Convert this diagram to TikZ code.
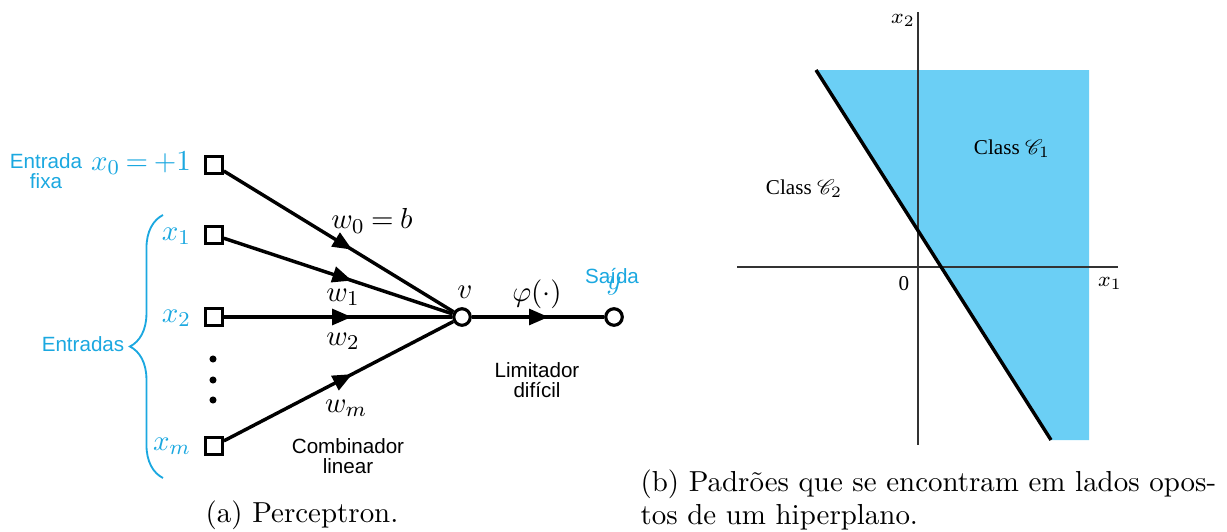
\documentclass[tikz,border=0pt]{standalone}
\usepackage{amsmath,amssymb}
\usepackage{mathrsfs}
\usepackage{fontspec}
\newfontfamily\sansfont{Liberation Sans}
\newfontfamily\timesfont{Liberation Serif}
\usepackage{xcolor}
\usepackage{tikz}
\usetikzlibrary{arrows.meta,decorations.markings,decorations.pathreplacing}

\definecolor{azul}{HTML}{1BA8E0}
\definecolor{regiao}{HTML}{6BCFF5}

\begin{document}
\begin{tikzpicture}[
  x=0.0133cm, y=-0.0133cm,
  font=\fontsize{11}{13}\selectfont,
  inp/.style={draw, line width=1.2pt, fill=white, minimum size=2.2mm, inner sep=0pt},
  soma/.style={circle, draw, line width=1.2pt, fill=white, minimum size=2.2mm, inner sep=0pt},
  syn/.style={line width=1.3pt, postaction={decorate},
              decoration={markings, mark=at position #1 with
                {\arrow{Triangle[length=2.6mm,width=2.1mm]}}}},
  syn/.default=0.56,
  el/.style={font=\sansfont\fontsize{7.8}{7.6}\selectfont, align=center, inner sep=1pt},
  cy/.style={el, text=azul},
  wt/.style={inner sep=1pt, execute at begin node={\thickmuskip=4mu}},
  cls/.style={font=\timesfont\fontsize{8}{9}\selectfont, inner sep=1pt},
  ax/.style={line width=0.6pt, black!80},
  legenda/.style={font=\fontsize{10.95}{12.6}\selectfont, inner sep=0pt},
]
\useasboundingbox (0,0) rectangle (1227,531);

% --- (a) perceptron -----------------------------------------------------
\node[inp] (x0) at (214,165) {};
\node[inp] (x1) at (214,235) {};
\node[inp] (x2) at (214,317) {};
\node[inp] (xm) at (214,446) {};
\node[soma] (v) at (462,317) {};
\node[soma] (out) at (614,317) {};

\foreach \yy in {359,380,400}
  \fill (213,\yy) circle[radius=0.47mm];

\node[wt, text=azul, anchor=base east, execute at begin node={\thickmuskip=3.5mu}] (lx0) at (194,170) {$x_0 = +1$};
\node[wt, text=azul, anchor=base east] (lx1) at (194,240) {$x_1$};
\node[wt, text=azul, anchor=base east] (lx2) at (194,322) {$x_2$};
\node[wt, text=azul, anchor=base east] (lxm) at (194,450) {$x_m$};

\draw[syn] (x0) -- (v);
\draw[syn] (x1) -- (v);
\draw[syn] (x2) -- (v);
\draw[syn] (xm) -- (v);
\draw[syn=0.58] (v) -- (out);

\node[wt] (w0) at (372,221) {$w_0 = b$};
\node[wt] (w1) at (343,297) {$w_1$};
\node[wt] (w2) at (343,341) {$w_2$};
\node[wt] (wm) at (346,408) {$w_m$};
\node[wt] (lv) at (465,292) {$v$};
\node[wt] (phi) at (537,294) {$\varphi(\cdot)$};

\node[cy] (fixa) at (46,171) {Entrada\\fixa};
\node[cy] (said) at (612,276) {Saída};
\node[wt, text=azul] (ly) at (614,286) {$y$};
\node[el] (lim) at (537,380) {Limitador\\difícil};
\node[el] (comb) at (348,456) {Combinador\\linear};

% brace round the inputs
\coordinate (bb) at (163,478);
\coordinate (bt) at (163,215);
\draw[azul, line width=0.7pt, decorate, decoration={brace, amplitude=0.44cm}] (bb) -- (bt);
\node[cy] (entr) at (83,344) {Entradas};

\node[legenda] (capa) at (302,515) {(a) Perceptron.};

% --- (b) hyperplane -----------------------------------------------------
\fill[regiao] (816,70) -- (1089,70) -- (1089,440) -- (1051,440) -- cycle;
\draw[ax] (737,267) -- (1118,267);
\draw[ax] (918,12) -- (918,445);
\draw[line width=1.3pt] (816,70) -- (1051,440);

\node[cls] (lx2b) at (903,20) {$x_2$};
\node[cls] (lx1b) at (1110,283) {$x_1$};
\node[cls] (zero) at (904,284) {0};
\node[cls] (c1) at (1012,149) {Class $\mathscr{C}_1$};
\node[cls] (c2) at (804,189) {Class $\mathscr{C}_2$};

\node[legenda, anchor=north west, align=left] (capb) at (640,469)
  {(b) Padrões que se encontram em lados opos-\\tos de um hiperplano.};
\end{tikzpicture}
\end{document}
